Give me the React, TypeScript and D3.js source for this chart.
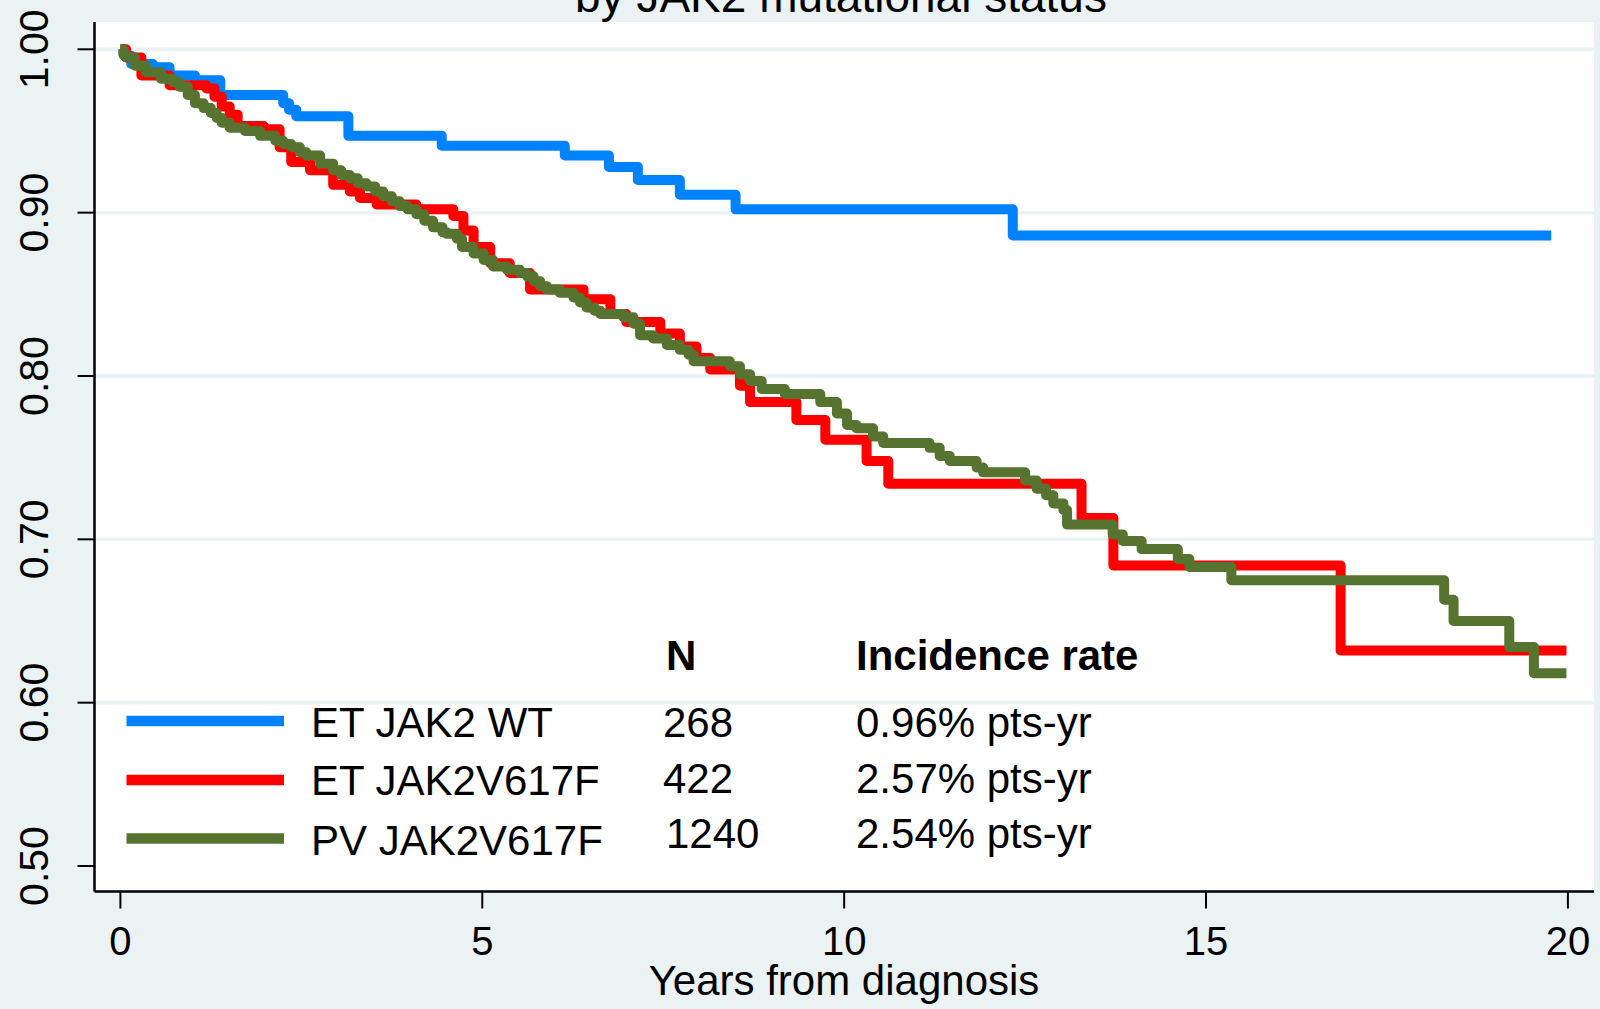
import React from 'react'
import * as d3 from 'd3'

// Kaplan-Meier steps: [years from diagnosis, survival]
const etWildType: [number, number][] = [
  [0, 1.0], [0.05, 0.996], [0.15, 0.991], [0.45, 0.989], [0.68, 0.984], [1.03, 0.981],
  [1.38, 0.972], [2.25, 0.967], [2.33, 0.963], [2.43, 0.959], [3.15, 0.947], [4.44, 0.941],
  [6.14, 0.935], [6.75, 0.928], [7.15, 0.92], [7.73, 0.911], [8.5, 0.902], [12.33, 0.886],
  [19.77, 0.886],
]

const etV617F: [number, number][] = [
  [0, 1.0], [0.08, 0.995], [0.29, 0.984], [0.68, 0.978], [1.19, 0.976], [1.3, 0.971],
  [1.4, 0.965], [1.51, 0.96], [1.62, 0.953], [1.98, 0.951], [2.2, 0.94], [2.36, 0.931],
  [2.62, 0.926], [2.94, 0.917], [3.17, 0.913], [3.31, 0.909], [3.54, 0.905], [4.09, 0.902],
  [4.6, 0.898], [4.74, 0.889], [4.88, 0.879], [5.11, 0.869], [5.38, 0.863], [5.66, 0.853],
  [6.4, 0.847], [6.77, 0.838], [6.99, 0.833], [7.46, 0.826], [7.73, 0.818], [7.96, 0.811],
  [8.15, 0.804], [8.56, 0.794], [8.7, 0.784], [9.34, 0.773], [9.74, 0.761], [10.31, 0.748],
  [10.61, 0.734], [13.28, 0.713], [13.72, 0.684], [16.86, 0.632], [19.98, 0.632],
]

const pvV617F: [number, number][] = [
  [0, 1.0], [0.04, 0.997], [0.08, 0.995], [0.2, 0.99], [0.35, 0.986], [0.56, 0.982],
  [0.72, 0.98], [0.82, 0.977], [0.93, 0.972], [1.03, 0.967], [1.15, 0.964], [1.25, 0.961],
  [1.33, 0.958], [1.4, 0.955], [1.51, 0.952], [1.72, 0.95], [1.93, 0.947], [2.14, 0.944],
  [2.25, 0.942], [2.36, 0.94], [2.48, 0.937], [2.57, 0.935], [2.76, 0.93], [2.94, 0.926],
  [3.05, 0.923], [3.17, 0.921], [3.28, 0.918], [3.4, 0.916], [3.52, 0.913], [3.63, 0.91],
  [3.75, 0.907], [3.86, 0.904], [3.97, 0.902], [4.09, 0.899], [4.2, 0.895], [4.32, 0.891],
  [4.45, 0.888], [4.51, 0.887], [4.65, 0.884], [4.72, 0.879], [4.88, 0.875], [5.02, 0.871],
  [5.15, 0.867], [5.34, 0.865], [5.52, 0.863], [5.62, 0.861], [5.71, 0.858], [5.8, 0.855],
  [5.89, 0.853], [6.07, 0.851], [6.26, 0.848], [6.35, 0.845], [6.44, 0.842], [6.55, 0.84],
  [6.63, 0.838], [6.95, 0.836], [7.09, 0.832], [7.18, 0.825], [7.36, 0.823], [7.55, 0.819],
  [7.73, 0.816], [7.85, 0.813], [7.92, 0.809], [8.42, 0.806], [8.56, 0.801], [8.7, 0.797],
  [8.86, 0.792], [9.18, 0.789], [9.67, 0.784], [9.9, 0.777], [10.04, 0.77], [10.17, 0.768],
  [10.4, 0.763], [10.54, 0.759], [11.18, 0.756], [11.32, 0.751], [11.46, 0.748], [11.83, 0.744],
  [11.92, 0.741], [12.5, 0.736], [12.66, 0.731], [12.79, 0.727], [12.89, 0.722], [13.03, 0.718],
  [13.08, 0.709], [13.71, 0.703], [13.85, 0.699], [14.11, 0.694], [14.61, 0.688], [14.77, 0.683],
  [15.35, 0.675], [18.29, 0.663], [18.42, 0.65], [19.19, 0.634], [19.53, 0.618], [19.98, 0.618],
]

const groupNames = ['ET JAK2 WT', 'ET JAK2V617F', 'PV JAK2V617F']
const groupN = ['268', '422', '1240']
const groupRates = ['0.96% pts-yr', '2.57% pts-yr', '2.54% pts-yr']
const xTicks = [0, 5, 10, 15, 20]
const yTicks = [0.5, 0.6, 0.7, 0.8, 0.9, 1.0]
const gridTicks = [0.6, 0.7, 0.8, 0.9, 1.0]

const colors = ['#0082ff', '#ff0000', '#56742f']
const bg = '#eaf2f3'
const font = '"Liberation Sans", Arial, sans-serif'

export default function App() {
  const width = 1600
  const height = 1009
  const plot = { left: 94.5, right: 1594, top: 22, bottom: 891.5 }

  const x = d3.scaleLinear().domain([0, 20]).range([120.4, 1567.9])
  const y = d3.scaleLinear().domain([0.5, 1]).range([866, 49.3])

  const line = d3.line<[number, number]>()
    .x(d => x(d[0]))
    .y(d => y(d[1]))
    .curve(d3.curveStepAfter)

  const series = [etWildType, etV617F, pvV617F]
  const legendY = [721, 780, 838.5]
  const labelBase = [737, 795, 855]
  const nBase = [737, 793, 848]

  return (
    <div style={{ position: 'fixed', left: 0, top: 0 }}>
      <svg width={width} height={height} style={{ display: 'block' }} fontFamily={font}>
        <rect x={0} y={0} width={width} height={height} fill={bg} />
        <rect x={plot.left} y={plot.top} width={plot.right - plot.left} height={plot.bottom - plot.top} fill="#fff" />

        {gridTicks.map(t => (
          <line key={t} x1={plot.left} x2={plot.right} y1={y(t)} y2={y(t)} stroke={bg} strokeWidth={3.5} />
        ))}

        <text x={841} y={12} fontSize={46} textAnchor="middle" fill="#000">by JAK2 mutational status</text>

        {/* axes */}
        <line x1={plot.left} x2={plot.left} y1={plot.top} y2={plot.bottom} stroke="#000" strokeWidth={2.5} />
        <line x1={plot.left} x2={plot.right} y1={plot.bottom} y2={plot.bottom} stroke="#000" strokeWidth={2.5} />
        {yTicks.map(t => (
          <g key={t}>
            <line x1={plot.left - 17} x2={plot.left} y1={y(t)} y2={y(t)} stroke="#000" strokeWidth={2} />
            <text transform={`translate(48,${y(t)}) rotate(-90)`} textAnchor="middle" fontSize={41}>{t.toFixed(2)}</text>
          </g>
        ))}
        {xTicks.map(t => (
          <g key={t}>
            <line x1={x(t)} x2={x(t)} y1={plot.bottom} y2={plot.bottom + 17} stroke="#000" strokeWidth={2} />
            <text x={x(t)} y={955} textAnchor="middle" fontSize={40}>{t}</text>
          </g>
        ))}
        <text x={844} y={995} textAnchor="middle" fontSize={42}>Years from diagnosis</text>

        {/* curves */}
        {series.map((s, i) => (
          <path key={i} d={line(s) || ''} fill="none" stroke={colors[i]} strokeWidth={10} strokeLinejoin="round" />
        ))}

        {/* legend */}
        <text x={666} y={670} fontSize={42} fontWeight="bold">N</text>
        <text x={856} y={670} fontSize={42} fontWeight="bold">Incidence rate</text>
        {groupNames.map((g, i) => (
          <g key={g}>
            <line x1={126.5} x2={284} y1={legendY[i]} y2={legendY[i]} stroke={colors[i]} strokeWidth={10.5} />
            <text x={311} y={labelBase[i]} fontSize={42}>{g}</text>
            <text x={i === 2 ? 666 : 663} y={nBase[i]} fontSize={42}>{groupN[i]}</text>
            <text x={856} y={nBase[i]} fontSize={42}>{groupRates[i]}</text>
          </g>
        ))}
      </svg>
    </div>
  )
}
